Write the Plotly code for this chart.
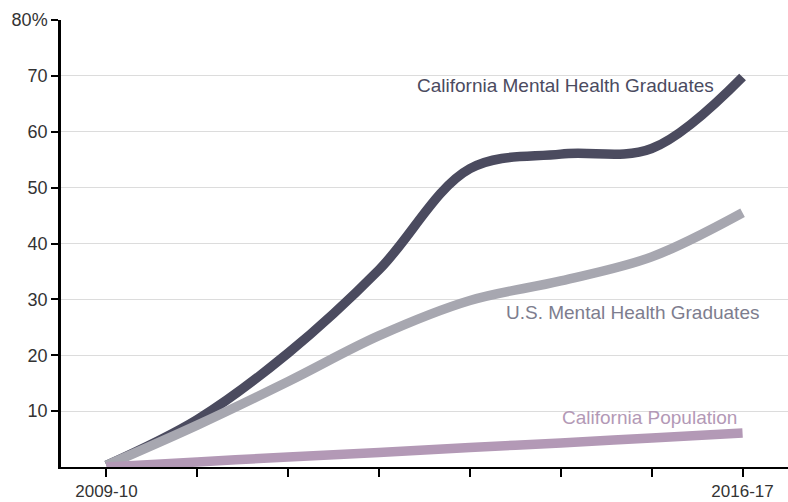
import plotly.graph_objects as go

years = ["2009-10", "2010-11", "2011-12", "2012-13", "2013-14", "2014-15", "2015-16", "2016-17"]
ca_mh = [0.3, 8.5, 20.4, 35.3, 53.4, 56.0, 57.0, 69.8]
us_mh = [0.3, 7.5, 15.3, 23.5, 29.8, 33.3, 37.6, 45.5]
ca_pop = [0.0, 0.9, 1.8, 2.6, 3.5, 4.3, 5.2, 6.1]

y_ticks = [10, 20, 30, 40, 50, 60, 70, 80]
y_ticktext = ["10", "20", "30", "40", "50", "60", "70", "80%"]
x_ticktext = [y if i in (0, len(years) - 1) else "" for i, y in enumerate(years)]

dark = "#4b4b5f"
gray = "#a7a7b0"
purple = "#b399b6"
FONT = "Liberation Sans, Arial, sans-serif"

fig = go.Figure()
fig.add_trace(go.Scatter(x=years, y=ca_mh, mode="lines",
                         line=dict(color=dark, width=9.5, shape="spline", smoothing=1)))
fig.add_trace(go.Scatter(x=years, y=us_mh, mode="lines",
                         line=dict(color=gray, width=9.5, shape="spline", smoothing=1)))
fig.add_trace(go.Scatter(x=years, y=ca_pop, mode="lines",
                         line=dict(color=purple, width=9.5, shape="spline", smoothing=1)))

fig.add_annotation(x=6.71, y=68.3, xref="x", yref="y", text="California Mental Health Graduates",
                   showarrow=False, xanchor="right", yanchor="middle",
                   font=dict(family=FONT, size=19, color=dark))
fig.add_annotation(x=7.2, y=27.7, xref="x", yref="y", text="U.S. Mental Health Graduates",
                   showarrow=False, xanchor="right", yanchor="middle",
                   font=dict(family=FONT, size=19, color="#7d7d8e"))
fig.add_annotation(x=6.96, y=8.9, xref="x", yref="y", text="California Population",
                   showarrow=False, xanchor="right", yanchor="middle",
                   font=dict(family=FONT, size=19, color=purple))

fig.update_layout(
    width=788, height=502,
    margin=dict(l=61, r=0, t=20, b=35),
    paper_bgcolor="white", plot_bgcolor="white",
    showlegend=False,
    font=dict(family=FONT, size=18, color="#333333"),
    xaxis=dict(type="category", range=[-0.5, 7.5], tickmode="array", tickvals=years,
               ticktext=x_ticktext, showgrid=False, zeroline=False, automargin=False,
               showline=True, linecolor="black", linewidth=2,
               tickfont=dict(size=17),
               ticks="outside", ticklen=8, tickwidth=2, tickcolor="black"),
    yaxis=dict(range=[0, 80], tickmode="array", tickvals=y_ticks, ticktext=y_ticktext,
               showgrid=True, gridcolor="#dcdcdc", gridwidth=1, zeroline=False, automargin=False,
               showline=True, linecolor="black", linewidth=2.5,
               ticks="outside", ticklen=7, tickwidth=2, tickcolor="black"),
)

fig.write_html("out.html")
